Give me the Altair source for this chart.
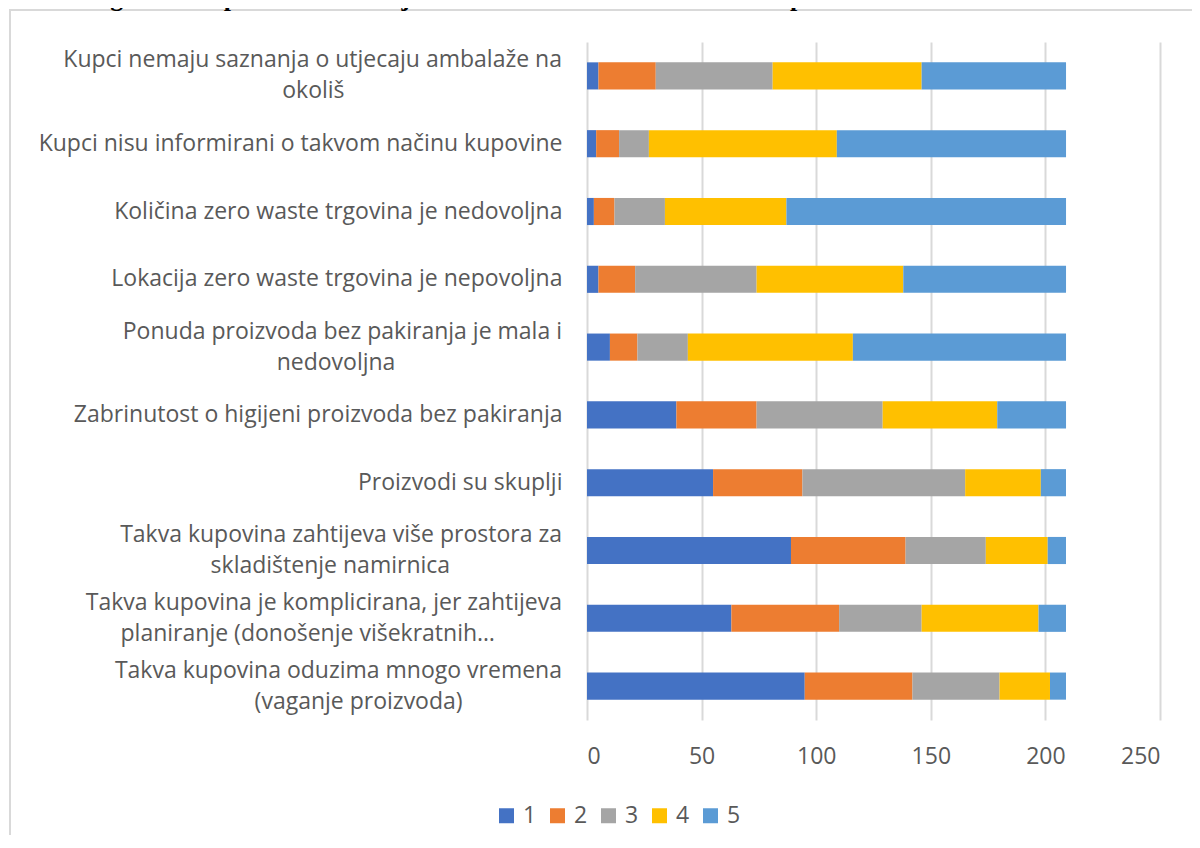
import altair as alt
import pandas as pd

title_text = "Graf 6 Suglasnost ispitanika s tvrdnjama vezanim za bezambalažnu kupovinu"

categories = [
    "Kupci nemaju saznanja o utjecaju ambalaže na|okoliš",
    "Kupci nisu informirani o takvom načinu kupovine",
    "Količina zero waste trgovina je nedovoljna",
    "Lokacija zero waste trgovina je nepovoljna",
    "Ponuda proizvoda bez pakiranja je mala i|nedovoljna",
    "Zabrinutost o higijeni proizvoda bez pakiranja",
    "Proizvodi su skuplji",
    "Takva kupovina zahtijeva više prostora za|skladištenje namirnica",
    "Takva kupovina je komplicirana, jer zahtijeva|planiranje (donošenje višekratnih…",
    "Takva kupovina oduzima mnogo vremena|(vaganje proizvoda)",
]
series = ["1", "2", "3", "4", "5"]
v1 = [5, 4, 3, 5, 10, 39, 55, 89, 63, 95]
v2 = [25, 10, 9, 16, 12, 35, 39, 50, 47, 47]
v3 = [51, 13, 22, 53, 22, 55, 71, 35, 36, 38]
v4 = [65, 82, 53, 64, 72, 50, 33, 27, 51, 22]
v5 = [63, 100, 122, 71, 93, 30, 11, 8, 12, 7]
x_ticks = [0, 50, 100, 150, 200, 250]
colors = ["#4472C4", "#ED7D31", "#A5A5A5", "#FFC000", "#5B9BD5"]

rows = []
for s, vals in zip(series, [v1, v2, v3, v4, v5]):
    for c, v in zip(categories, vals):
        rows.append({"cat": c, "series": s, "value": v})
df = pd.DataFrame(rows)

FONT = "Open Sans"
FS = 23
TXT = "#595959"
PAD = 25
LH = 31

y_enc = alt.Y(
    "cat:N",
    sort=categories,
    scale=alt.Scale(paddingInner=0.6, paddingOuter=0.3),
    axis=alt.Axis(
        title=None,
        domain=False,
        ticks=False,
        tickSize=0,
        grid=False,
        labelPadding=PAD,
        labelLimit=800,
        labelFont=FONT,
        labelFontSize=FS,
        labelColor=TXT,
        labelExpr="indexof(datum.label, '|') >= 0 ? '' : datum.label",
    ),
)

bars = alt.Chart(df).mark_bar().encode(
    y=y_enc,
    x=alt.X(
        "value:Q",
        stack="zero",
        scale=alt.Scale(domain=[0, 250], nice=False),
        axis=alt.Axis(
            title=None,
            values=x_ticks,
            domain=False,
            ticks=False,
            grid=True,
            gridColor="#d9d9d9",
            gridWidth=2,
            labelFont=FONT,
            labelFontSize=FS,
            labelColor=TXT,
            labelPadding=25,
        ),
    ),
    color=alt.Color(
        "series:N",
        scale=alt.Scale(domain=series, range=colors),
        legend=alt.Legend(
            title=None,
            orient="none",
            legendX=-92,
            legendY=762,
            direction="horizontal",
            columns=5,
            symbolType="square",
            symbolSize=225,
            symbolStrokeWidth=0,
            labelFont=FONT,
            labelFontSize=FS,
            labelColor=TXT,
            labelOffset=5,
            columnPadding=9,
            padding=0,
        ),
    ),
    order=alt.Order("series:N"),
)

wrapped = (
    alt.Chart(pd.DataFrame({"cat": categories}))
    .transform_filter("indexof(datum.cat, '|') >= 0")
    .transform_calculate(
        line1="split(datum.cat, '|')[0]",
        line2="split(datum.cat, '|')[1]",
    )
)

first_lines = wrapped.mark_text(
    align="right", baseline="middle", dy=-LH / 2, font=FONT, fontSize=FS, color=TXT
).encode(
    y=alt.Y("cat:N", sort=categories),
    x=alt.value(-PAD),
    text="line1:N",
)

second_lines = (
    wrapped.transform_calculate(cx=f"-{PAD} - length(datum.line1) * 11.3 / 2")
    .mark_text(align="center", baseline="middle", dy=LH / 2, font=FONT, fontSize=FS, color=TXT)
    .encode(
        y=alt.Y("cat:N", sort=categories),
        x=alt.X("cx:Q", scale=None),
        text="line2:N",
    )
)

border = (
    alt.Chart(pd.DataFrame({"b": [0]}))
    .mark_rect(fillOpacity=0, stroke="#d9d9d9", strokeWidth=2)
    .encode(x=alt.value(-577), x2=alt.value(800), y=alt.value(-32), y2=alt.value(900))
)

title = (
    alt.Chart(pd.DataFrame({"t": [title_text]}))
    .mark_text(align="left", baseline="alphabetic", font="Liberation Serif",
               fontWeight="bold", fontSize=26, color="#000000")
    .encode(x=alt.value(-585), y=alt.value(-36), text="t:N")
)

chart = (
    alt.layer(border, bars, first_lines, second_lines, title)
    .properties(
        width=573,
        height=678,
        autosize=alt.AutoSizeParams(type="none"),
        padding={"left": 579, "top": 34, "right": 32, "bottom": 115},
        background="white",
    )
    .configure_view(stroke=None)
)

chart.save("out.html", embed_options={"renderer": "svg", "actions": False})
